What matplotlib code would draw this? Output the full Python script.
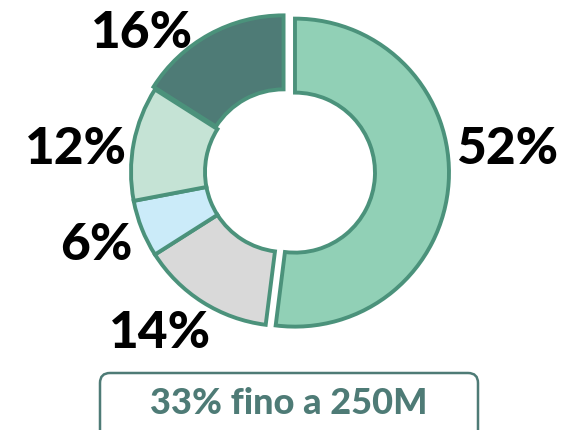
import matplotlib.pyplot as plt
from matplotlib.patches import FancyBboxPatch

# slice data (clockwise from 12 o'clock)
shares = [52, 14, 6, 12, 16]
labels = ['52%', '14%', '6%', '12%', '16%']
colors = ['#91d0b6', '#d9d9d9', '#cbebf9', '#c5e3d5', '#4e7b76']
explode = [10, 0, 0, 0, 3]
# where the percentage labels sit (px, y up)
label_xy = [(507, 280), (160, 97), (96, 185), (76, 280), (142, 397)]
box_text = '33% fino a 250M'

fig = plt.figure(figsize=(5.77, 4.30), dpi=100)
ax = fig.add_axes([0, 0, 1, 1])

wedges, _ = ax.pie(shares, colors=colors, explode=explode, startangle=90,
                   counterclock=False, radius=154, center=(285, 258),
                   wedgeprops=dict(width=74, edgecolor='#4b927b', linewidth=2.8))

for lab, (x, y) in zip(labels, label_xy):
    ax.text(x, y, lab, ha='center', va='center', fontsize=37,
            fontweight='black', family='Lato', color='black')

box = FancyBboxPatch((100, -20), 378, 77, boxstyle='round,pad=0,rounding_size=10',
                     facecolor='white', edgecolor='#4e7b76', linewidth=1.8)
ax.add_patch(box)
ax.text(289, 27, box_text, ha='center', va='center', fontsize=26,
        fontweight='black', family='Lato', color='#4e7b76')

ax.set_xlim(0, 577)
ax.set_ylim(0, 430)
ax.set_aspect('auto')
ax.axis('off')

fig.savefig('out.png', dpi=100)
